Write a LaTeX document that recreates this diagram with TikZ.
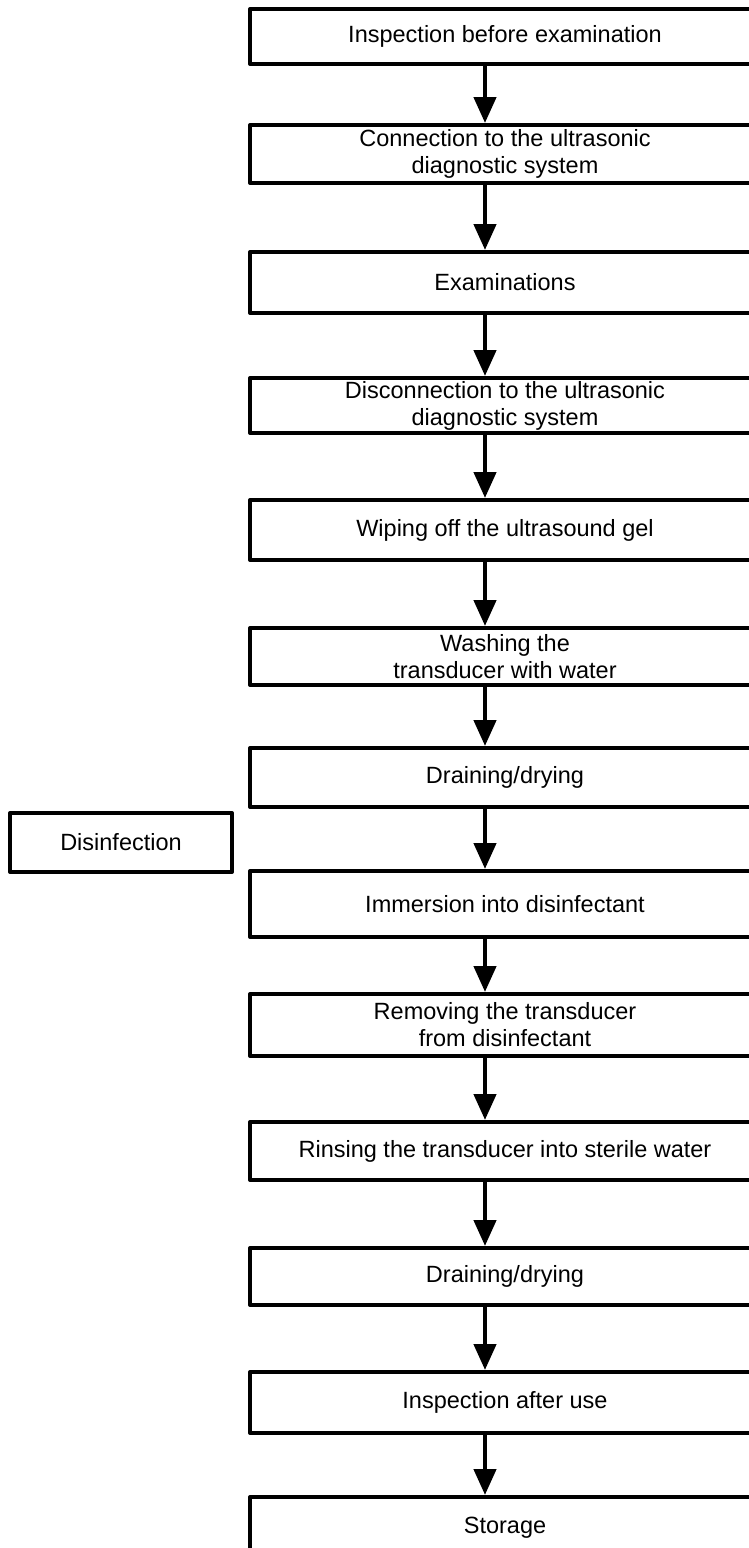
\documentclass[tikz,border=0pt]{standalone}
\usepackage{fontspec}
\setmainfont{Liberation Sans}
\usetikzlibrary{arrows.meta}

\begin{document}
\begin{tikzpicture}[x=1pt,y=-1pt,>={Triangle[length=26pt,width=22pt]},line join=round,
  font=\fontsize{23.5}{27}\selectfont,
  stepbox/.style={draw,line width=4pt,minimum width=510pt,inner sep=0pt,align=center},
  flow/.style={->,line width=4.5pt}]
\useasboundingbox (0,0) rectangle (749,1548);
\clip (0,0) rectangle (749,1548);
\coordinate (spine) at (485,0);
\node[stepbox,minimum height=55pt] (inspbefore) at (505,36.5) {Inspection before examination};
\node[stepbox,minimum height=58pt] (connect) at (505,154) {Connection to the ultrasonic\\diagnostic system};
\node[stepbox,minimum height=61pt] (exam) at (505,282.5) {Examinations};
\node[stepbox,minimum height=55pt] (disconnect) at (505,405.5) {Disconnection to the ultrasonic\\diagnostic system};
\node[stepbox,minimum height=60pt] (wipe) at (505,530) {Wiping off the ultrasound gel};
\node[stepbox,minimum height=57pt] (wash) at (505,656.5) {Washing the\\transducer with water};
\node[stepbox,minimum height=59pt] (drainA) at (505,777.5) {Draining/drying};
\node[stepbox,minimum height=66pt] (immerse) at (505,904) {Immersion into disinfectant};
\node[stepbox,minimum height=62pt] (remove) at (505,1025) {Removing the transducer\\from disinfectant};
\node[stepbox,minimum height=58pt] (rinse) at (505,1151) {Rinsing the transducer into sterile water};
\node[stepbox,minimum height=57pt] (drainB) at (505,1276.5) {Draining/drying};
\node[stepbox,minimum height=61pt] (inspafter) at (505,1402.5) {Inspection after use};
\node[stepbox,minimum height=62pt] (store) at (505,1528) {Storage};
\node[stepbox,minimum width=222pt,minimum height=59pt] (disinf) at (121,842.5) {Disinfection};
\draw[flow] (inspbefore.south -| spine) -- (connect.north -| spine);
\draw[flow] (connect.south -| spine) -- (exam.north -| spine);
\draw[flow] (exam.south -| spine) -- (disconnect.north -| spine);
\draw[flow] (disconnect.south -| spine) -- (wipe.north -| spine);
\draw[flow] (wipe.south -| spine) -- (wash.north -| spine);
\draw[flow] (wash.south -| spine) -- (drainA.north -| spine);
\draw[flow] (drainA.south -| spine) -- (immerse.north -| spine);
\draw[flow] (immerse.south -| spine) -- (remove.north -| spine);
\draw[flow] (remove.south -| spine) -- (rinse.north -| spine);
\draw[flow] (rinse.south -| spine) -- (drainB.north -| spine);
\draw[flow] (drainB.south -| spine) -- (inspafter.north -| spine);
\draw[flow] (inspafter.south -| spine) -- (store.north -| spine);
\end{tikzpicture}
\end{document}
